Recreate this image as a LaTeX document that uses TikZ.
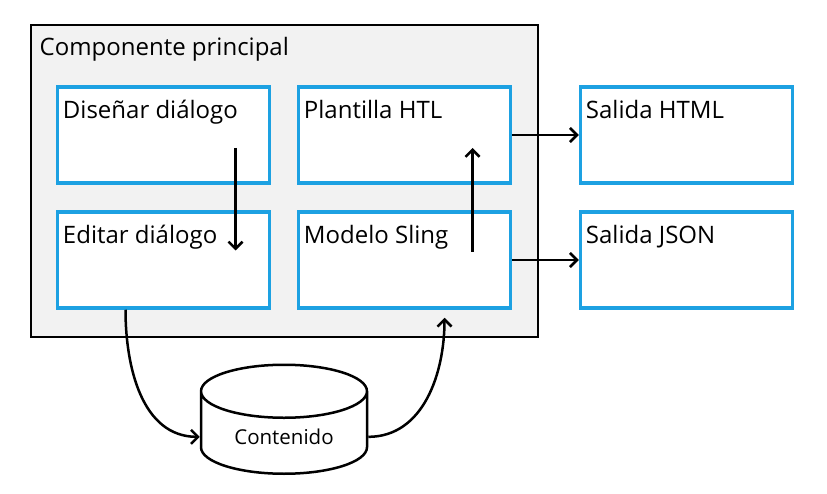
\documentclass[tikz,border=0pt]{standalone}
\usepackage{fontspec}
\setmainfont{Open Sans}
\usetikzlibrary{shapes.geometric,arrows.meta}
\definecolor{azul}{RGB}{29,161,226}
\begin{document}
\begin{tikzpicture}[x=1pt, y=-1pt, font=\fontsize{24}{28}\selectfont,
      caja/.style={draw=azul, line width=3.5pt, fill=white, minimum width=212pt, minimum height=96pt},
      titulo/.style={anchor=north west, inner sep=0pt, xshift=7pt, yshift=-15pt},
      flecha/.style={line width=2.5pt, -{Straight Barb[length=7pt,width=14pt]}}]
  \useasboundingbox (0,0) rectangle (827,494);
  \node[draw, line width=2pt, fill=black!5, minimum width=507pt, minimum height=311pt,
        label={[titulo, xshift=3pt, yshift=2pt]north west:Componente principal}] (comp) at (284,181) {};
  \node[caja, label={[titulo]north west:Diseñar diálogo}] (disenar) at (163.5,135) {};
  \node[caja, label={[titulo]north west:Plantilla HTL}] (plantilla) at (404.5,135) {};
  \node[caja, label={[titulo]north west:Editar diálogo}] (editar) at (163.5,260) {};
  \node[caja, label={[titulo]north west:Modelo Sling}] (modelo) at (404.5,260) {};
  \node[caja, label={[titulo]north west:Salida HTML}] (html) at (686.5,135) {};
  \node[caja, label={[titulo]north west:Salida JSON}] (json) at (686.5,260) {};
  \node[cylinder, shape border rotate=90, draw, line width=2.5pt, fill=white, aspect=0.5, anchor=south,
        minimum width=166pt, minimum height=109pt, font=\fontsize{20.5}{24}\selectfont] (contenido) at (284,475) {Contenido};
  \draw[flecha] ([shift={(72,13)}]disenar.center) -- ([shift={(72,-9.5)}]editar.center);
  \draw[flecha] ([shift={(68,-8)}]modelo.center) -- ([shift={(68,13)}]plantilla.center);
  \draw[flecha] (plantilla.east) -- (html.west);
  \draw[flecha] (modelo.east) -- (json.west);
  \draw[flecha] ([xshift=-38pt]editar.south) to[out=-90, in=180] (contenido.west);
  \draw[flecha] (contenido.east) to[out=0, in=-90] ([xshift=40pt, yshift=-8pt]modelo.south);
\end{tikzpicture}
\end{document}
